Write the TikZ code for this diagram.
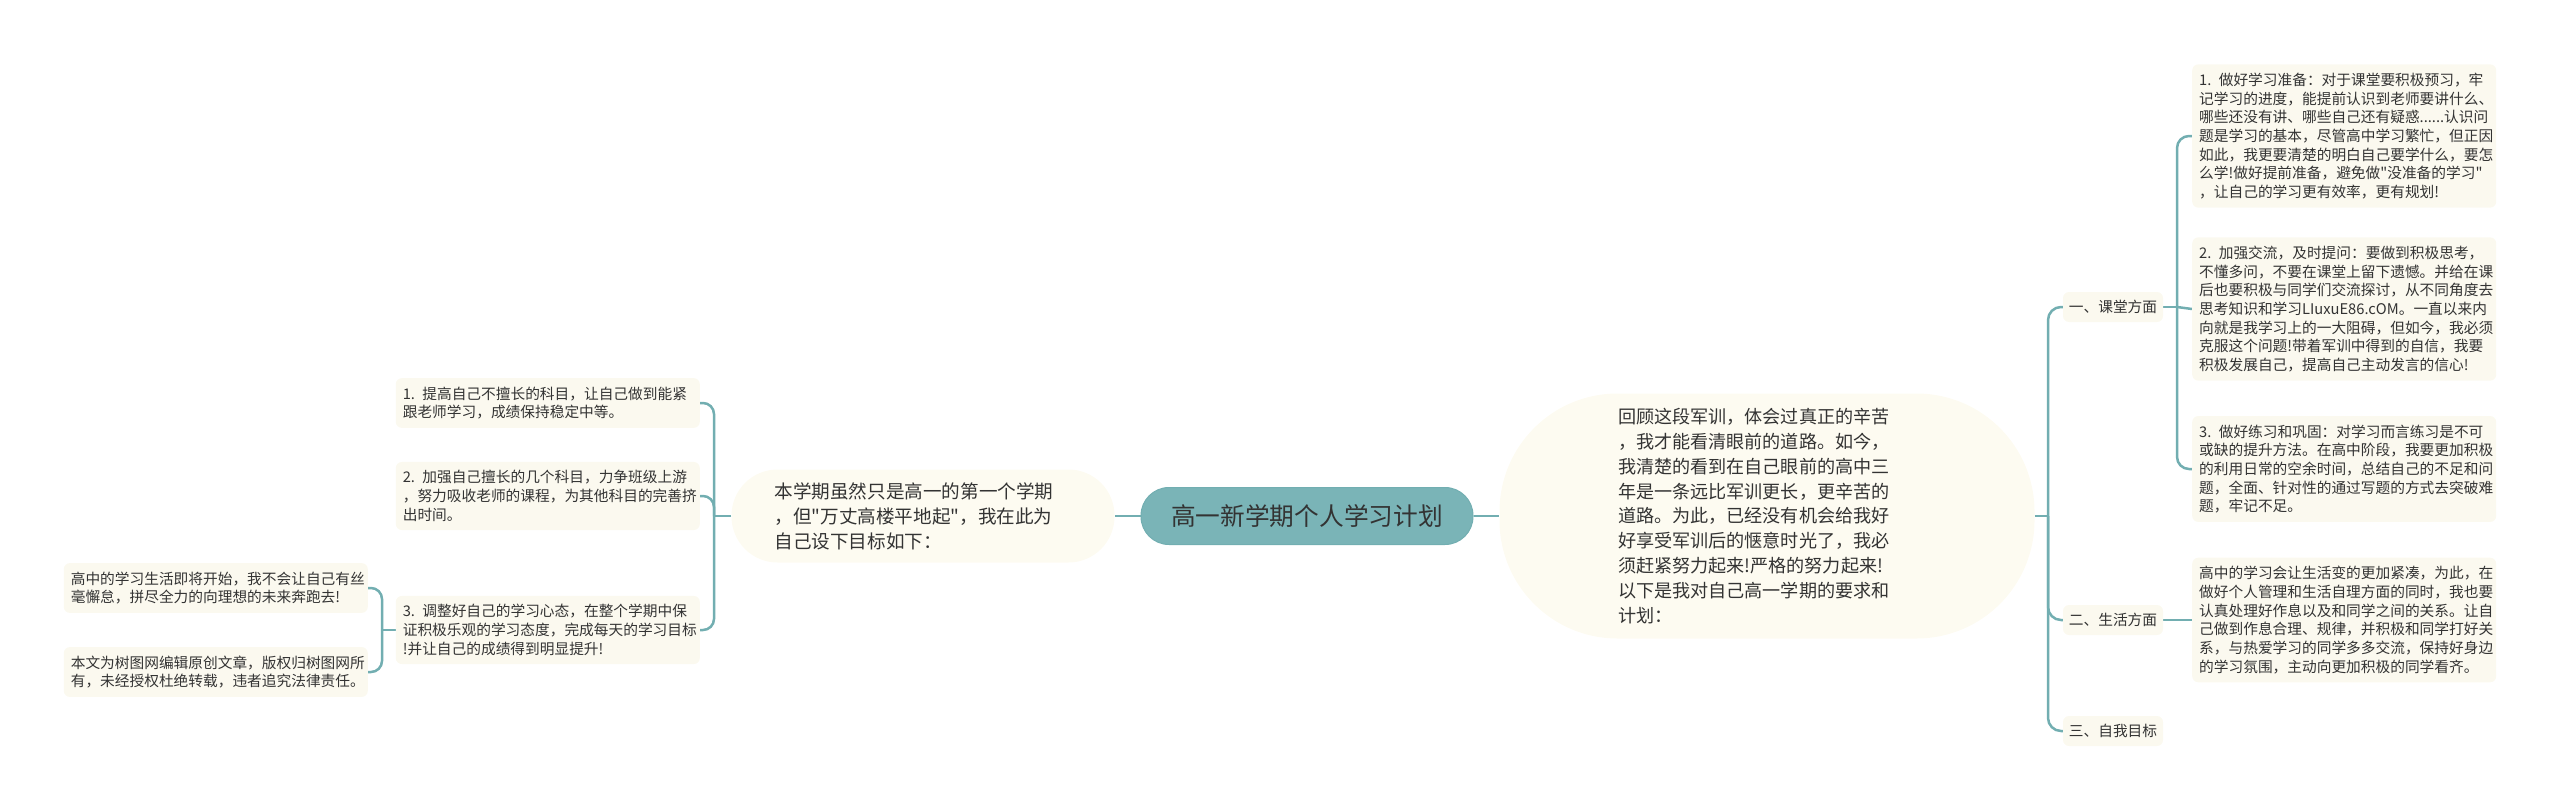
\documentclass[tikz,border=0pt]{standalone}
\usepackage{fontspec}
\setmainfont{Noto Sans CJK SC}[Ligatures=TeXOff]
\usetikzlibrary{calc,backgrounds}
\definecolor{conncol}{HTML}{72AEB1}
\definecolor{rootfill}{HTML}{7AB4B7}
\definecolor{cream}{HTML}{FBF9EF}
\definecolor{pillcream}{HTML}{FDFBF1}
\definecolor{txt}{HTML}{333333}
\newcommand\fsmall{\fontsize{14.7}{18.7}\selectfont}
\newcommand\fmidR{\fontsize{18.1}{24.8}\selectfont}
\newcommand\fmidL{\fontsize{18.6}{25}\selectfont}
\newcommand\fbig{\fontsize{24.7}{30}\selectfont}
\begin{document}
\begin{tikzpicture}[x=1pt,y=-1pt,
  connline/.style={draw=conncol,line width=2.5pt},
  leaf/.style={fill=cream,rounded corners=6pt,text=txt,font=\fsmall,text width=290pt,align=left,inner xsep=7pt,inner ysep=8.5pt},
  lab/.style={fill=cream,rounded corners=6pt,text=txt,font=\fsmall,minimum width=100pt,minimum height=30pt,inner sep=0pt},
  rootnode/.style={fill=rootfill,draw=conncol,line width=1pt,rounded corners=28pt,minimum width=332pt,minimum height=57pt,text=txt,font=\fbig,inner sep=0pt},
  pillR/.style={fill=pillcream,rounded corners=118pt,minimum width=535pt,minimum height=245pt,text width=298pt,align=left,text=txt,font=\fmidR,inner sep=0pt},
  pillL/.style={fill=pillcream,rounded corners=46pt,minimum width=383pt,minimum height=93pt,text width=297pt,align=left,text=txt,font=\fmidL,inner sep=0pt}
]
\useasboundingbox (0,0) rectangle (2560,809);

\node[rootnode] (root) at (1307,516) {高一新学期个人学习计划};

\node[pillR] (intro) at (1767,516) {回顾这段军训，体会过真正的辛苦\\，我才能看清眼前的道路。如今，\\我清楚的看到在自己眼前的高中三\\年是一条远比军训更长，更辛苦的\\道路。为此，已经没有机会给我好\\好享受军训后的惬意时光了，我必\\须赶紧努力起来!严格的努力起来!\\以下是我对自己高一学期的要求和\\计划：};

\node[pillL] (goal) at (923,516) {本学期虽然只是高一的第一个学期\\，但"万丈高楼平地起"，我在此为\\自己设下目标如下：};

\node[lab] (k1) at (2113,307) {一、课堂方面};
\node[lab] (k2) at (2113,620) {二、生活方面};
\node[lab] (k3) at (2113,731) {三、自我目标};

\node[leaf,anchor=west] (r1) at (2192,136) {1. 做好学习准备：对于课堂要积极预习，牢\\记学习的进度，能提前认识到老师要讲什么、\\哪些还没有讲、哪些自己还有疑惑......认识问\\题是学习的基本，尽管高中学习繁忙，但正因\\如此，我更要清楚的明白自己要学什么，要怎\\么学!做好提前准备，避免做"没准备的学习"\\，让自己的学习更有效率，更有规划!};
\node[leaf,anchor=west] (r2) at (2192,309) {2. 加强交流，及时提问：要做到积极思考，\\不懂多问，不要在课堂上留下遗憾。并给在课\\后也要积极与同学们交流探讨，从不同角度去\\思考知识和学习LIuxuE86.cOM。一直以来内\\向就是我学习上的一大阻碍，但如今，我必须\\克服这个问题!带着军训中得到的自信，我要\\积极发展自己，提高自己主动发言的信心!};
\node[leaf,anchor=west] (r3) at (2192,469) {3. 做好练习和巩固：对学习而言练习是不可\\或缺的提升方法。在高中阶段，我要更加积极\\的利用日常的空余时间，总结自己的不足和问\\题，全面、针对性的通过写题的方式去突破难\\题，牢记不足。};
\node[leaf,anchor=west] (r4) at (2192,620) {高中的学习会让生活变的更加紧凑，为此，在\\做好个人管理和生活自理方面的同时，我也要\\认真处理好作息以及和同学之间的关系。让自\\己做到作息合理、规律，并积极和同学打好关\\系，与热爱学习的同学多多交流，保持好身边\\的学习氛围，主动向更加积极的同学看齐。};

\node[leaf,anchor=east] (l1) at (700,403) {1. 提高自己不擅长的科目，让自己做到能紧\\跟老师学习，成绩保持稳定中等。};
\node[leaf,anchor=east] (l2) at (700,496) {2. 加强自己擅长的几个科目，力争班级上游\\，努力吸收老师的课程，为其他科目的完善挤\\出时间。};
\node[leaf,anchor=east] (l3) at (700,630) {3. 调整好自己的学习心态，在整个学期中保\\证积极乐观的学习态度，完成每天的学习目标\\!并让自己的成绩得到明显提升!};

\node[leaf,anchor=east] (m1) at (368,588) {高中的学习生活即将开始，我不会让自己有丝\\毫懈怠，拼尽全力的向理想的未来奔跑去!};
\node[leaf,anchor=east] (m2) at (368,672) {本文为树图网编辑原创文章，版权归树图网所\\有，未经授权杜绝转载，违者追究法律责任。};

\coordinate (jR) at (2048,516);
\coordinate (jK) at (2177,307);
\coordinate (jL) at (714,516);
\coordinate (jM) at (382,630);

\begin{scope}[on background layer]
\draw[connline] (root.west) -- (goal.east);
\draw[connline] (root.east) -- (intro.west);
\draw[connline] (intro.east) -- (jR);
\draw[connline,rounded corners=13pt] (jR) |- (k1.west);
\draw[connline,rounded corners=13pt] (jR) |- (k2.west);
\draw[connline,rounded corners=13pt] (jR) |- (k3.west);
\draw[connline] (k1.east) -- (jK);
\draw[connline,rounded corners=12pt] (jK) |- (r1.west);
\draw[connline] (jK) -- (r2.west);
\draw[connline,rounded corners=12pt] (jK) |- (r3.west);
\draw[connline] (k2.east) -- (r4.west);
\draw[connline] (goal.west) -- (jL);
\draw[connline,rounded corners=11pt] (jL) |- (l1.east);
\draw[connline,rounded corners=11pt] (jL) |- (l2.east);
\draw[connline,rounded corners=11pt] (jL) |- (l3.east);
\draw[connline] (l3.west) -- (jM);
\draw[connline,rounded corners=11pt] (jM) |- (m1.east);
\draw[connline,rounded corners=11pt] (jM) |- (m2.east);
\end{scope}
\end{tikzpicture}
\end{document}
